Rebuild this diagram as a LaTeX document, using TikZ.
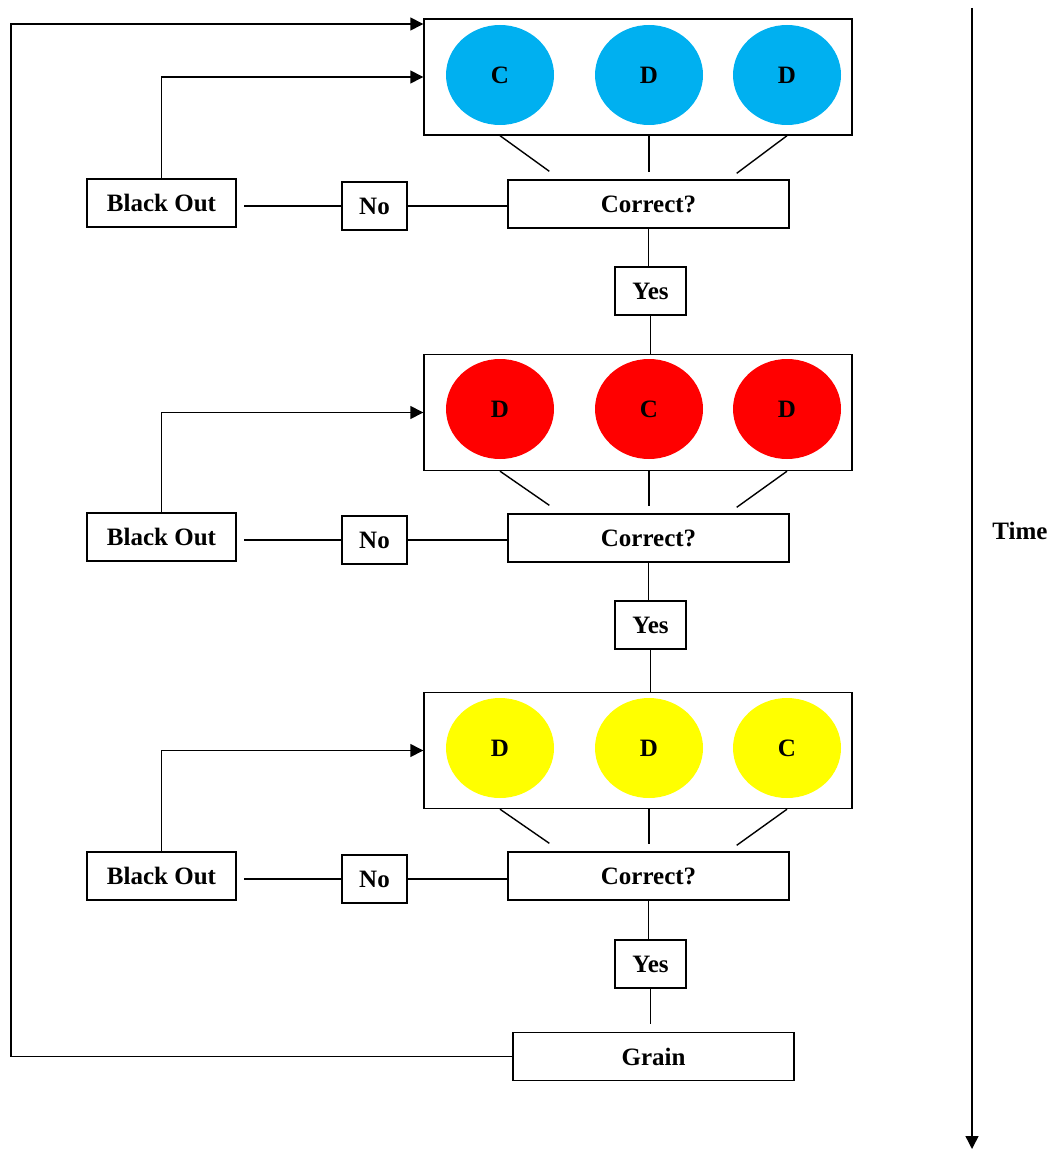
\documentclass[tikz,border=0pt]{standalone}
\usepackage{fontspec}
\setmainfont{Liberation Serif}
\usetikzlibrary{arrows.meta, positioning, shapes.geometric, calc}

\begin{document}
\begin{tikzpicture}[x=1pt, y=1pt, line width=1.4pt,
  box/.style={draw, line width=1.4pt, minimum height=48pt, inner sep=0pt,
              font=\fontsize{25}{30}\selectfont\bfseries},
  stage/.style={draw, line width=1.4pt, minimum width=428pt, minimum height=116pt, inner sep=0pt},
  lamp/.style={ellipse, minimum width=108pt, minimum height=100pt, inner sep=0pt,
               font=\fontsize{25}{30}\selectfont\bfseries},
  ar/.style={-{Triangle[length=13pt, width=13pt]}}]
\useasboundingbox (0,0) rectangle (1057,-1150);
\definecolor{lampblue}{RGB}{0,176,240}
\definecolor{lampred}{RGB}{255,0,0}
\definecolor{lampyellow}{RGB}{255,255,0}
% stage 1
\node[stage] (s1) at (638,-77) {};
\node[lamp, fill=lampblue] (e11) at (500,-75) {C};
\node[lamp, fill=lampblue] (e12) at (649,-75) {D};
\node[lamp, fill=lampblue] (e13) at (787,-75) {D};
\node[box, minimum width=281pt] (c1) at (648.5,-204) {Correct?};
\node[box, minimum width=71pt] (y1) at (650.5,-291) {Yes};
\node[box, minimum width=65pt] (n1) at (374.5,-206) {No};
\node[box, minimum width=149pt] (b1) at (161.5,-203) {Black Out};
\draw (s1.south -| e11) -- ([shift={(42,8)}]c1.north west);
\draw (s1.south -| e12) -- ([yshift=7pt]c1.north -| e12);
\draw (s1.south -| e13) -- ([shift={(-53,6)}]c1.north east);
\draw (n1.west) -- ([xshift=7pt]n1.west -| b1.east);
\draw (n1.east) -- (n1.east -| c1.west);
\draw[ar] (b1.north) |- (s1.west);
\draw (c1.south) -- (c1.south |- y1.north);
% stage 2
\node[stage] (s2) at (638,-412.5) {};
\node[lamp, fill=lampred] (e21) at (500,-409) {D};
\node[lamp, fill=lampred] (e22) at (649,-409) {C};
\node[lamp, fill=lampred] (e23) at (787,-409) {D};
\node[box, minimum width=281pt] (c2) at (648.5,-538) {Correct?};
\node[box, minimum width=71pt] (y2) at (650.5,-625) {Yes};
\node[box, minimum width=65pt] (n2) at (374.5,-540) {No};
\node[box, minimum width=149pt] (b2) at (161.5,-537) {Black Out};
\draw (y1.south) -- (y1.south |- s2.north);
\draw (s2.south -| e21) -- ([shift={(42,8)}]c2.north west);
\draw (s2.south -| e22) -- ([yshift=7pt]c2.north -| e22);
\draw (s2.south -| e23) -- ([shift={(-53,6)}]c2.north east);
\draw (n2.west) -- ([xshift=7pt]n2.west -| b2.east);
\draw (n2.east) -- (n2.east -| c2.west);
\draw[ar] (b2.north) |- (s2.west);
\draw (c2.south) -- (c2.south |- y2.north);
% stage 3
\node[stage] (s3) at (638,-750.5) {};
\node[lamp, fill=lampyellow] (e31) at (500,-748) {D};
\node[lamp, fill=lampyellow] (e32) at (649,-748) {D};
\node[lamp, fill=lampyellow] (e33) at (787,-748) {C};
\node[box, minimum width=281pt] (c3) at (648.5,-876) {Correct?};
\node[box, minimum width=71pt] (y3) at (650.5,-964) {Yes};
\node[box, minimum width=65pt] (n3) at (374.5,-879) {No};
\node[box, minimum width=149pt] (b3) at (161.5,-876) {Black Out};
\draw (y2.south) -- (y2.south |- s3.north);
\draw (s3.south -| e31) -- ([shift={(42,8)}]c3.north west);
\draw (s3.south -| e32) -- ([yshift=7pt]c3.north -| e32);
\draw (s3.south -| e33) -- ([shift={(-53,6)}]c3.north east);
\draw (n3.west) -- ([xshift=7pt]n3.west -| b3.east);
\draw (n3.east) -- (n3.east -| c3.west);
\draw[ar] (b3.north) |- (s3.west);
\draw (c3.south) -- (c3.south |- y3.north);
% grain and loop back
\node[box, minimum width=281pt] (g) at (653.5,-1056.5) {Grain};
\draw (y3.south) -- ([yshift=8pt]y3.south |- g.north);
\coordinate (back) at (11,-24);
\draw[ar] (g.west) -| (back) -- (back -| s1.west);
% time axis
\coordinate (t0) at (972,-8);
\coordinate (t1) at (972,-1149);
\draw[ar] (t0) -- (t1);
\node[font=\fontsize{25}{30}\selectfont\bfseries] (time) at (1020,-531) {Time};
\end{tikzpicture}
\end{document}
